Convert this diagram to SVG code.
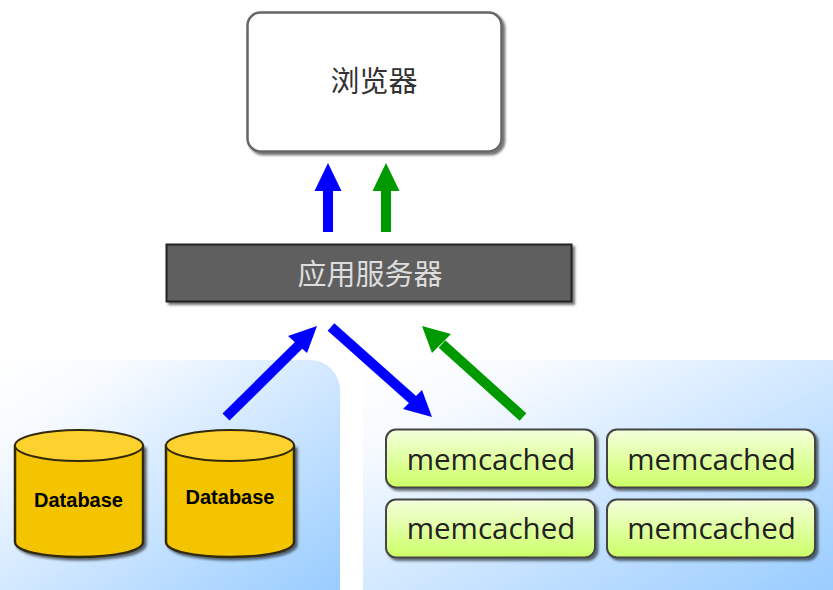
<svg xmlns="http://www.w3.org/2000/svg" width="833" height="590" viewBox="0 0 833 590">
<style>
.mem{fill:url(#memFill);stroke:#444;stroke-width:2;filter:url(#shadow)}
.memt{font:29.5px "Open Sans","Noto Sans",sans-serif;fill:#222;text-anchor:middle}
.dbt{font:bold 20px "Liberation Sans",Arial,sans-serif;fill:#000;text-anchor:middle}
.cjk{font-family:"Noto Sans CJK SC",sans-serif;font-size:29px;text-anchor:middle}
.dbbody{fill:#f4c400;stroke:#33290a;stroke-width:2.5;filter:url(#shadow)}
.dbtop{fill:#fdd22e;stroke:#33290a;stroke-width:2}
.shaft{fill:none;stroke-width:10}
.b{stroke:#0000ff}.g{stroke:#009900}
.bh{fill:#0000ff}.gh{fill:#009900}
</style>
<defs>
<linearGradient id="panelL" x1="0" y1="0" x2="1" y2="1"><stop offset="0" stop-color="#fff"/><stop offset="0.2" stop-color="#f6faff"/><stop offset="1" stop-color="#99ccff"/></linearGradient>
<linearGradient id="panelR" x1="0" y1="0" x2="1" y2="1"><stop offset="0" stop-color="#fff"/><stop offset="0.2" stop-color="#f6faff"/><stop offset="1" stop-color="#99ccff"/></linearGradient>
<linearGradient id="memFill" x1="0" y1="0" x2="0" y2="1"><stop offset="0" stop-color="#f4ffdc"/><stop offset="1" stop-color="#ccff66"/></linearGradient>
<filter id="shadow" x="-10%" y="-10%" width="125%" height="125%"><feDropShadow dx="2.5" dy="2.5" stdDeviation="1.2" flood-color="#000" flood-opacity="0.55"/></filter>
</defs>
<rect width="833" height="590" fill="#fff"/>
<path id="panel-left" d="M0 360H310A30 30 0 0 1 340 390V590H0Z" fill="url(#panelL)"/>
<path id="panel-right" d="M363 360H833V590H363Z" fill="url(#panelR)"/>
<g id="browser"><rect x="247.500" y="12.500" width="254" height="139" rx="13" fill="#fff" stroke="#666" stroke-width="2.500" filter="url(#shadow)"/><text class="cjk" x="374" y="92" fill="#333">浏览器</text></g>
<g id="app-server"><rect x="166.500" y="244.500" width="405" height="57" fill="#5e5e5e" stroke="#222" stroke-width="2" filter="url(#shadow)"/><text class="cjk" x="370" y="285" fill="#ddd">应用服务器</text></g>
<g id="db1"><path class="dbbody" d="M15 446V542C15 551 43 557 79 557S143 551 143 542V446Z"/><ellipse class="dbtop" cx="79" cy="445.500" rx="64" ry="15.500"/><text class="dbt" x="78.500" y="507">Database</text></g>
<g id="db2"><path class="dbbody" d="M166 446V542C166 551 194 557 230 557S294 551 294 542V446Z"/><ellipse class="dbtop" cx="230" cy="445.500" rx="64" ry="15.500"/><text class="dbt" x="230" y="504">Database</text></g>
<g id="mem1"><rect class="mem" x="386" y="429.500" width="209" height="58" rx="10"/><text class="memt" x="491" y="470">memcached</text></g>
<g id="mem2"><rect class="mem" x="607" y="429.500" width="208" height="58" rx="10"/><text class="memt" x="711.500" y="470">memcached</text></g>
<g id="mem3"><rect class="mem" x="386" y="499.500" width="209" height="58" rx="10"/><text class="memt" x="491" y="539">memcached</text></g>
<g id="mem4"><rect class="mem" x="607" y="499.500" width="208" height="58" rx="10"/><text class="memt" x="711.500" y="539">memcached</text></g>
<g id="connectors">
<path class="shaft b" d="M328 232V185"/><path class="bh" d="M328 163L341.500 191H314.500Z"/>
<path class="shaft g" d="M386 232V185"/><path class="gh" d="M386 163L399.500 191H372.500Z"/>
<path class="shaft b" d="M226 417L300 344"/><path class="bh" d="M317 326L307 353L288 336Z"/>
<path class="shaft b" d="M331 327L413 400"/><path class="bh" d="M432 417L403 409L422 390Z"/>
<path class="shaft g" d="M523 417L442 344"/><path class="gh" d="M422 326L451 334L432 353Z"/>
</g>
</svg>
